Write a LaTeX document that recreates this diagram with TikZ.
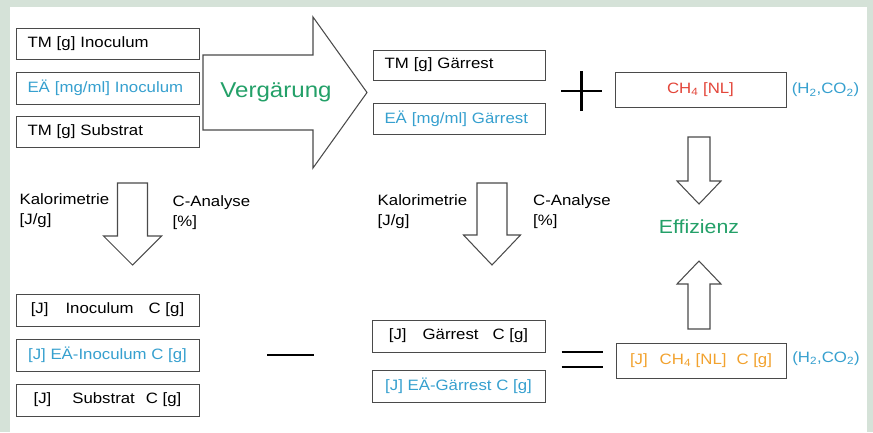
\documentclass[tikz,border=0pt]{standalone}
\usepackage{fontspec}
\setmainfont{Liberation Sans}[FakeStretch=1.12]
\definecolor{bgout}{HTML}{D5E2D8}
\definecolor{boxline}{HTML}{4A4A4A}
\definecolor{tblue}{HTML}{36A0CF}
\definecolor{tgreen}{HTML}{23A068}
\definecolor{tred}{HTML}{E3463A}
\definecolor{torange}{HTML}{F2A22E}
\newcommand{\fsn}{\fontsize{15}{20}\selectfont}
\begin{document}
\begin{tikzpicture}[x=1pt,y=-1pt,
  box/.style={draw=boxline, line width=0.95pt, inner xsep=11.5pt, inner ysep=0pt,
    minimum height=31pt, align=left, font=\fsn},
  lbox/.style={box, text width=160pt},
  mbox/.style={box, text width=149pt},
  cbox/.style={draw=boxline, line width=0.95pt, inner sep=0pt, minimum height=#1,
    font=\fsn, align=center},
  cbox/.default=32pt,
  lbl/.style={font=\fsn, align=left, anchor=west, inner sep=0pt},
  hollow/.style={draw=boxline, line width=1.05pt, fill=white, line join=miter},
  bar/.style={draw=black, line width=2.4pt}
]
\fill[bgout] (0,0) rectangle (873,432);
\fill[white] (10,7) rectangle (867,432);
\useasboundingbox (0,0) rectangle (873,432);

% left input boxes
\node[lbox] (tmi) at (107.5,43.5) {TM [g] Inoculum};
\node[lbox, text=tblue, minimum height=32pt] (eai) at (107.5,88) {EÄ [mg/ml] Inoculum};
\node[lbox] (tms) at (107.5,131.5) {TM [g] Substrat};

% big arrow
\draw[hollow] (203,55) -- (313,55) -- (313,17) -- (367,92.5) -- (313,168)
  -- (313,130) -- (203,130) -- cycle;
\node[font=\fontsize{21.5}{24}\selectfont, text=tgreen, anchor=base] (verg) at (276,97) {Vergärung};

% middle top boxes
\node[mbox, minimum height=30pt] (tmg) at (459,65) {TM [g] Gärrest};
\node[mbox, text=tblue] (eag) at (459,118.5) {EÄ [mg/ml] Gärrest};

% plus
\coordinate (pc) at (581.5,91);
\draw[bar, line width=2.1pt] ([xshift=-20.5pt]pc) -- ([xshift=20.5pt]pc);
\draw[bar, line width=2.1pt] ([yshift=-20pt]pc) -- ([yshift=20pt]pc);

% CH4 box top
\node[cbox=35pt, minimum width=171pt, text=tred] (ch4) at (700.5,89.5) {CH\textsubscript{4} [NL]};
\node[font=\fsn, text=tblue, inner sep=0pt] (h2a) at (825.5,90) {(H\textsubscript{2},CO\textsubscript{2})};

% arrow down to Effizienz
\draw[hollow] (688,137) -- (710,137) -- (710,181) -- (721,181) -- (699,204)
  -- (677,181) -- (688,181) -- cycle;
\node[font=\fontsize{19}{22}\selectfont, text=tgreen, inner sep=0pt] (eff) at (699,227) {Effizienz};
% arrow up to Effizienz
\draw[hollow] (688,329) -- (710,329) -- (710,284) -- (721,284) -- (699,261)
  -- (677,284) -- (688,284) -- cycle;

% left analysis arrow and labels
\draw[hollow] (117.5,183) -- (147.5,183) -- (147.5,236) -- (161.5,236) -- (132.5,265)
  -- (103.5,236) -- (117.5,236) -- cycle;
\node[lbl] (kal1) at (19.5,211) {Kalorimetrie\\{}[J/g]};
\node[lbl] (can1) at (172.5,212.5) {C-Analyse\\{}[\%]};

% middle analysis arrow and labels
\draw[hollow] (477,183) -- (507,183) -- (507,235) -- (520.5,235) -- (492,265)
  -- (463.5,235) -- (477,235) -- cycle;
\node[lbl] (kal2) at (377.5,212) {Kalorimetrie\\{}[J/g]};
\node[lbl] (can2) at (533,212) {C-Analyse\\{}[\%]};

% bottom left boxes
\node[cbox, minimum width=183pt] (bl1) at (107.5,310)
  {[J]\hspace{17pt}Inoculum\hspace{15pt}C [g]};
\node[cbox, minimum width=183pt, text=tblue] (bl2) at (107.5,355)
  {[J] EÄ-Inoculum C [g]};
\node[cbox, minimum width=183pt] (bl3) at (107.5,400)
  {[J]\hspace{21pt}Substrat\hspace{11pt}C [g]};

% minus
\coordinate (mc) at (290.5,355);
\draw[bar, line width=2.8pt] ([xshift=-23.5pt]mc) -- ([xshift=23.5pt]mc);

% bottom middle boxes
\node[cbox, minimum width=173pt] (bm1) at (458.5,336)
  {[J]\hspace{16pt}Gärrest\hspace{14pt}C [g]};
\node[cbox, minimum width=173pt, text=tblue] (bm2) at (458.5,386)
  {[J] EÄ-Gärrest C [g]};

% equals
\coordinate (ec) at (582,359.5);
\draw[bar, line width=2.8pt] ([xshift=-20.5pt,yshift=-7.5pt]ec) -- ([xshift=20.5pt,yshift=-7.5pt]ec);
\draw[bar, line width=2.8pt] ([xshift=-20.5pt,yshift=7.5pt]ec) -- ([xshift=20.5pt,yshift=7.5pt]ec);

% result box
\node[cbox=35pt, minimum width=170pt, text=torange] (res) at (701,360.5)
  {[J]\hspace{12pt}CH\textsubscript{4} [NL]\hspace{10pt}C [g]};
\node[font=\fsn, text=tblue, inner sep=0pt] (h2b) at (826,358.5) {(H\textsubscript{2},CO\textsubscript{2})};
\end{tikzpicture}
\end{document}
